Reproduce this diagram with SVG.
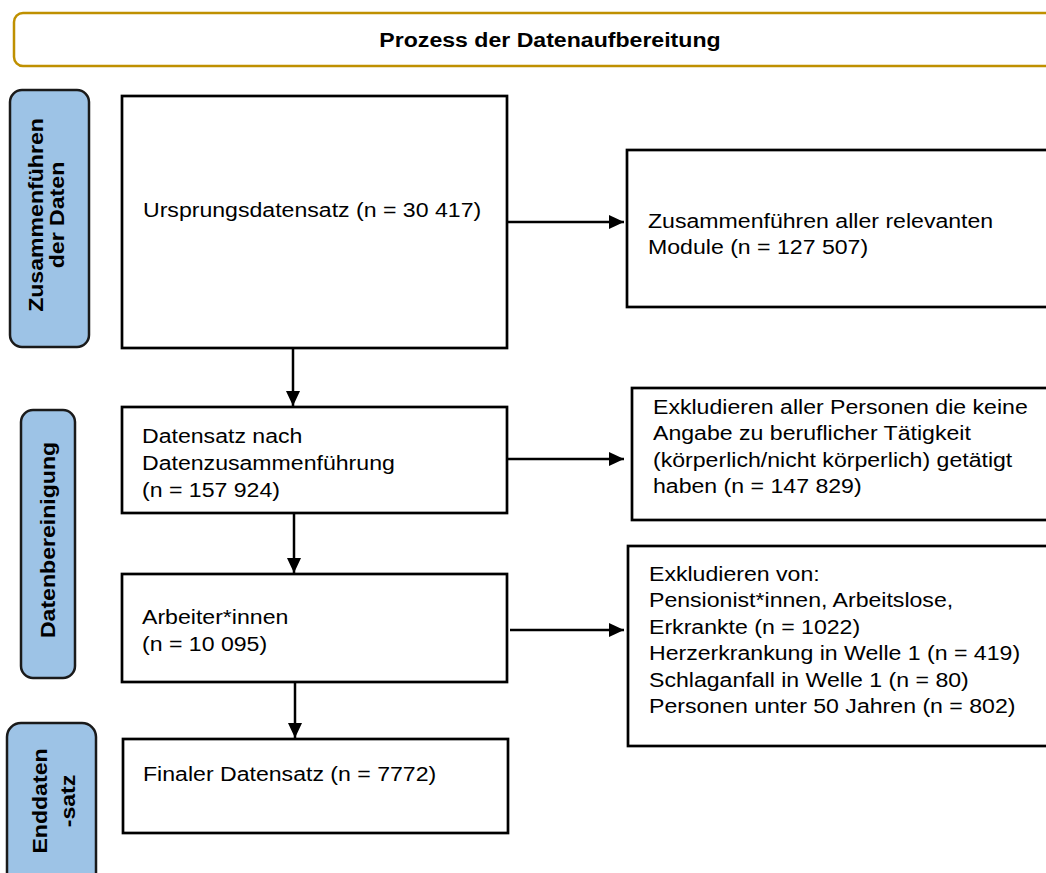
<svg xmlns="http://www.w3.org/2000/svg" width="1046" height="873" viewBox="0 0 1046 873">
<style>
.t{font-family:"Liberation Sans",Arial,Helvetica,sans-serif;font-size:21px;fill:#000}
.b{font-family:"Liberation Sans",Arial,Helvetica,sans-serif;font-size:21px;font-weight:bold;fill:#000}
.box{fill:#fff;stroke:#000;stroke-width:2.7}
.lab{fill:#9DC3E6;stroke:#1a1a1a;stroke-width:2.5}
.c{stroke:#000;stroke-width:2.5;fill:none}
</style>
<defs>
<marker id="ah" markerUnits="userSpaceOnUse" markerWidth="16" markerHeight="15" refX="15" refY="7" orient="auto">
<path d="M0,0 L15,7 L0,14 z" fill="#000"/>
</marker>
</defs>
<rect width="1046" height="873" fill="#fff"/>
<g id="title">
<rect x="14" y="13" width="1050" height="53" rx="9" fill="#fff" stroke="#BF9000" stroke-width="2.5"/>
<text class="b" text-anchor="middle" transform="translate(550,47) scale(1.1 1)">Prozess der Datenaufbereitung</text>
</g>
<g id="label1">
<rect class="lab" x="10" y="90" width="79" height="257" rx="12"/>
<text class="b" text-anchor="middle" transform="translate(49.5,215) rotate(-90) scale(1.1 1)"><tspan x="0" y="-7">Zusammenführen</tspan><tspan x="0" y="14">der Daten</tspan></text>
</g>
<g id="label2">
<rect class="lab" x="21" y="410" width="54" height="268" rx="12"/>
<text class="b" text-anchor="middle" transform="translate(48,540) rotate(-90) scale(1.1 1)"><tspan x="0" y="7">Datenbereinigung</tspan></text>
</g>
<g id="label3">
<rect class="lab" x="7" y="723" width="89" height="170" rx="14"/>
<text class="b" text-anchor="middle" transform="translate(51.5,801) rotate(-90) scale(1.1 1)"><tspan x="0" y="-5">Enddaten</tspan><tspan x="0" y="24">-satz</tspan></text>
</g>
<g id="n1">
<rect class="box" x="122" y="96" width="385" height="252"/>
<text class="t" transform="translate(143,217) scale(1.1 1)">Ursprungsdatensatz (n = 30 417)</text>
</g>
<g id="n2">
<rect class="box" x="627" y="150" width="430" height="157"/>
<text class="t" transform="translate(648,228) scale(1.1 1)"><tspan x="0" y="0">Zusammenführen aller relevanten</tspan><tspan x="0" y="26">Module (n = 127 507)</tspan></text>
</g>
<g id="n3">
<rect class="box" x="122" y="407" width="385" height="106"/>
<text class="t" transform="translate(142,443) scale(1.1 1)"><tspan x="0" y="0">Datensatz nach</tspan><tspan x="0" y="27">Datenzusammenführung</tspan><tspan x="0" y="54">(n = 157 924)</tspan></text>
</g>
<g id="n4">
<rect class="box" x="632" y="388" width="420" height="132"/>
<text class="t" transform="translate(653,414) scale(1.1 1)"><tspan x="0" y="0">Exkludieren aller Personen die keine</tspan><tspan x="0" y="26.3">Angabe zu beruflicher Tätigkeit</tspan><tspan x="0" y="52.6">(körperlich/nicht körperlich) getätigt</tspan><tspan x="0" y="79">haben (n = 147 829)</tspan></text>
</g>
<g id="n5">
<rect class="box" x="122" y="574" width="385" height="108"/>
<text class="t" transform="translate(142,624) scale(1.1 1)"><tspan x="0" y="0">Arbeiter*innen</tspan><tspan x="0" y="27.5">(n = 10 095)</tspan></text>
</g>
<g id="n6">
<rect class="box" x="628" y="546" width="425" height="200"/>
<text class="t" transform="translate(649,581) scale(1.1 1)"><tspan x="0" y="0">Exkludieren von:</tspan><tspan x="0" y="26.4">Pensionist*innen, Arbeitslose,</tspan><tspan x="0" y="52.8">Erkrankte (n = 1022)</tspan><tspan x="0" y="79.2">Herzerkrankung in Welle 1 (n = 419)</tspan><tspan x="0" y="105.6">Schlaganfall in Welle 1 (n = 80)</tspan><tspan x="0" y="132">Personen unter 50 Jahren (n = 802)</tspan></text>
</g>
<g id="n7">
<rect class="box" x="123" y="739" width="385" height="94"/>
<text class="t" transform="translate(143,781) scale(1.1 1)">Finaler Datensatz (n = 7772)</text>
</g>
<g id="connectors">
<line class="c" x1="508" y1="222" x2="624" y2="222" marker-end="url(#ah)"/>
<line class="c" x1="293" y1="349" x2="293" y2="406" marker-end="url(#ah)"/>
<line class="c" x1="508" y1="459" x2="624" y2="459" marker-end="url(#ah)"/>
<line class="c" x1="294" y1="514" x2="294" y2="573" marker-end="url(#ah)"/>
<line class="c" x1="510" y1="630" x2="624" y2="630" marker-end="url(#ah)"/>
<line class="c" x1="295" y1="683" x2="295" y2="738" marker-end="url(#ah)"/>
</g>
</svg>
